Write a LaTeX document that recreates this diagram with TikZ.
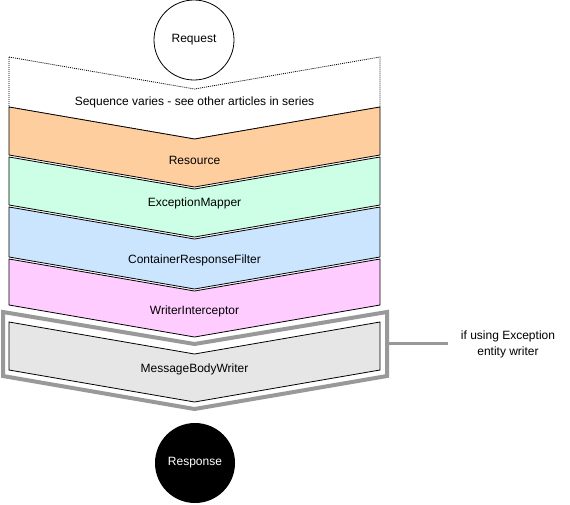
\documentclass[tikz,border=0pt]{standalone}
\usepackage{fontspec}
\setmainfont{Liberation Sans}
\definecolor{resfill}{HTML}{FFCE9F}
\definecolor{mapfill}{HTML}{CCFFE6}
\definecolor{filtfill}{HTML}{CCE5FF}
\definecolor{intfill}{HTML}{FFCCFF}
\definecolor{mbwfill}{HTML}{E6E6E6}
\definecolor{frame}{HTML}{999999}
\begin{document}
\begin{tikzpicture}[x=1pt,y=-1pt]
                \tikzstyle{every node}+=[inner sep=0pt, font=\fontsize{12}{16}\selectfont]
                \tikzstyle{layer}=[draw=black, line width=0.8pt, line join=miter]
                \useasboundingbox (0,0) rectangle (570,504);
                \draw [black, line width=0.8pt] (194,40) circle (40pt);
                \node (request) at (194,40) {Request};
                % sequence varies
                \draw [layer, dash pattern=on 1pt off 1pt] (9,57) -- (194.5,89) -- (380,57) -- (380,107) -- (194.5,139) -- (9,107) -- cycle;
                \node (varies) at (194.5,102) {Sequence varies - see other articles in series};
                \draw [layer, fill=resfill] (9,107) -- (194.5,139) -- (380,107) -- (380,155) -- (194.5,187) -- (9,155) -- cycle;
                \node (resource) at (194.5,160) {Resource};
                \draw [layer, fill=mapfill] (9,157) -- (194.5,189) -- (380,157) -- (380,205) -- (194.5,237) -- (9,205) -- cycle;
                \node (mapper) at (194.5,203) {ExceptionMapper};
                \draw [layer, fill=filtfill] (9,207) -- (194.5,239) -- (380,207) -- (380,257) -- (194.5,289) -- (9,257) -- cycle;
                \node (filter) at (194.5,260) {ContainerResponseFilter};
                \draw [layer, fill=intfill] (9,259) -- (194.5,291) -- (380,259) -- (380,305) -- (194.5,337) -- (9,305) -- cycle;
                \node (interceptor) at (194.5,311) {WriterInterceptor};
                % exception entity writer
                \draw [frame, line width=4pt, fill=white] (3,312) -- (194.5,344) -- (387,312) -- (387,376) -- (194.5,409) -- (3,376) -- cycle;
                \draw [layer, fill=mbwfill] (9,322) -- (194.5,354) -- (380,322) -- (380,370) -- (194.5,402) -- (9,370) -- cycle;
                \node (writer) at (194.5,369) {MessageBodyWriter};
                \coordinate (frameeast) at (389,343);
                \coordinate (noteend) at (448,343);
                \node [align=center] (note) at (508,344) {if using Exception\\entity writer};
                \draw [frame, line width=3pt] (frameeast) -- (noteend);
                \fill [black] (195,463) circle (40pt);
                \node [text=white] (response) at (195,463) {Response};
            \end{tikzpicture}
\end{document}
